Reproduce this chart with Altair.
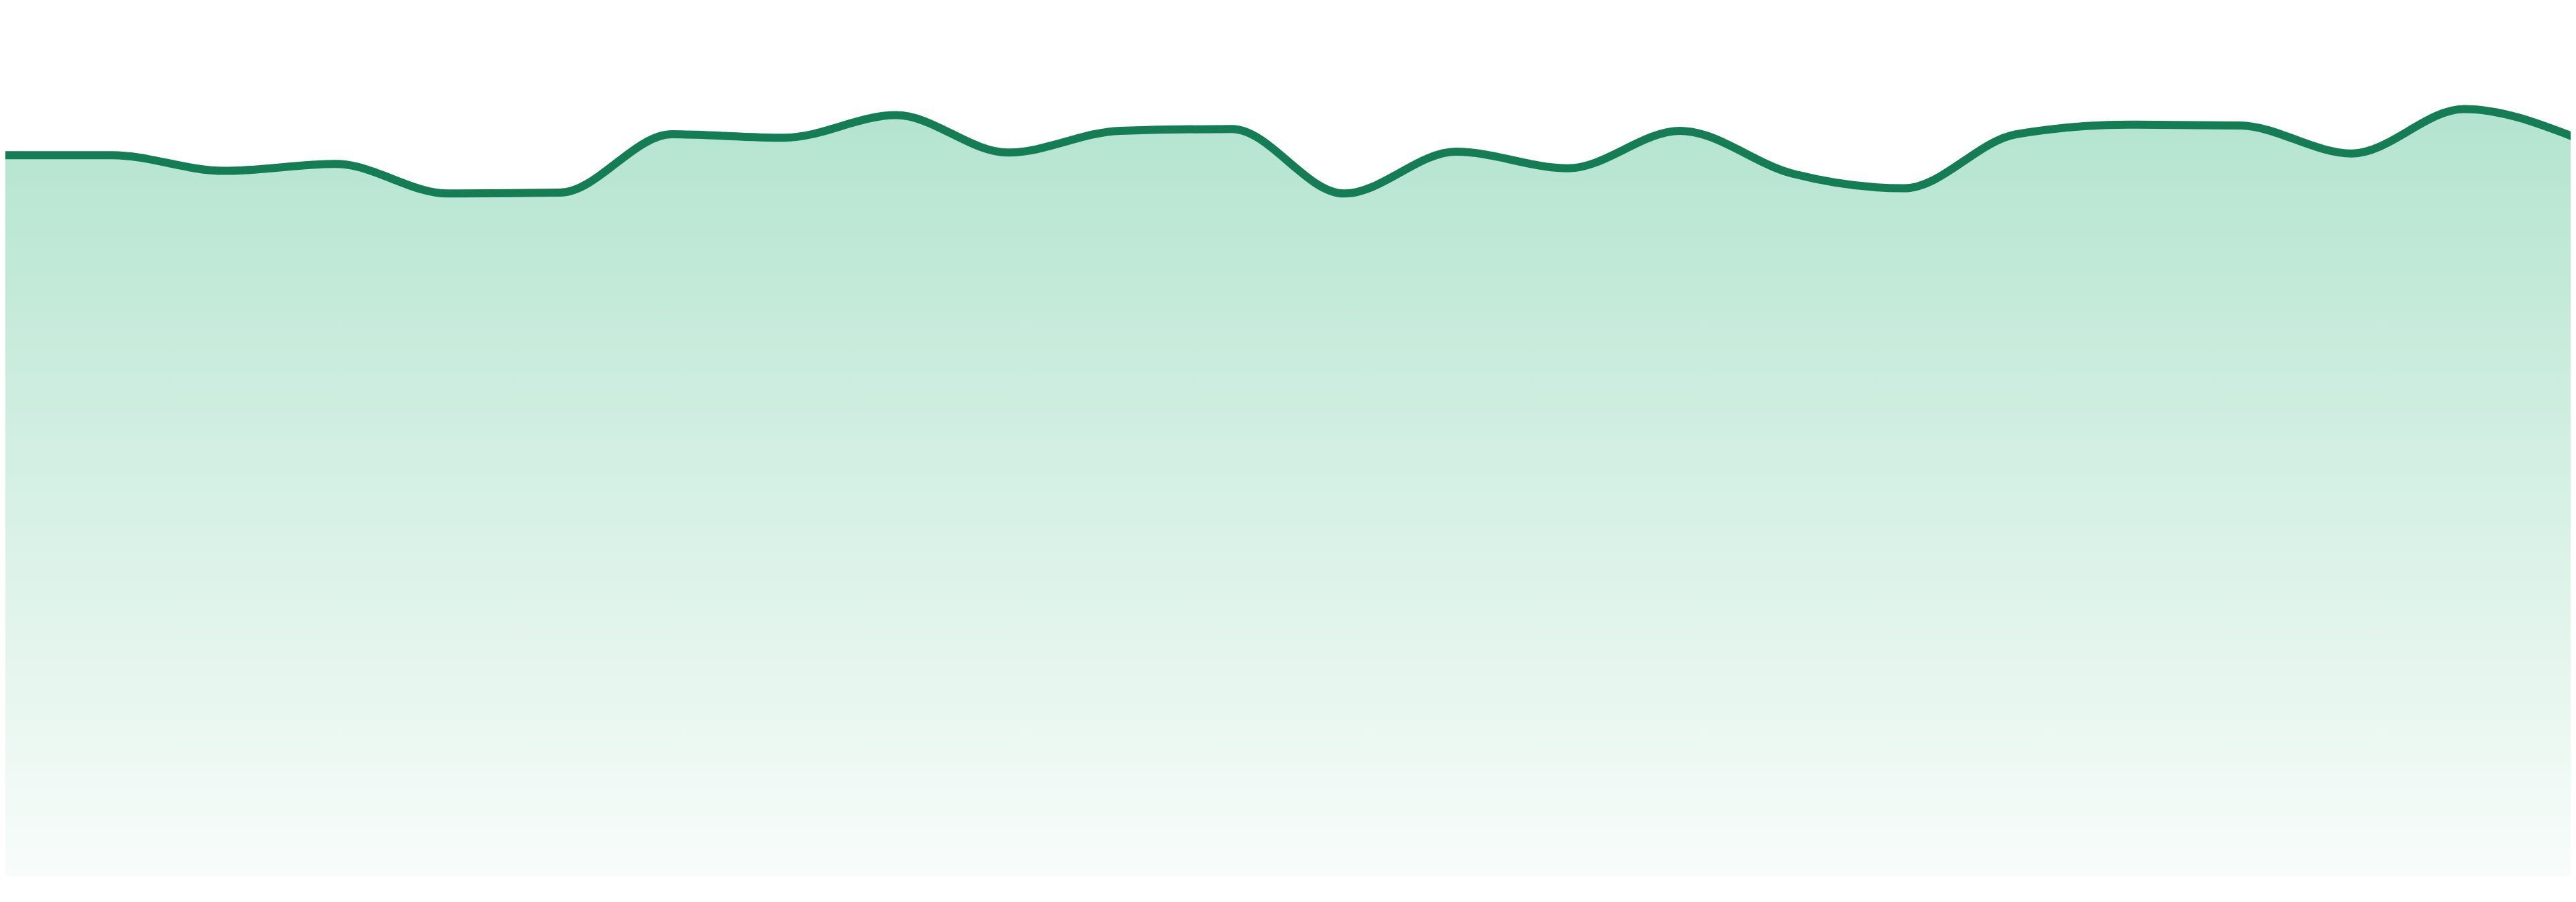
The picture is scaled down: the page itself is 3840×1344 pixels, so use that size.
import altair as alt
import pandas as pd

# Data (index positions and values on a 0-100 scale)
points = list(range(24))
values = [82.8, 82.8, 81.0, 81.8, 78.4, 78.5, 85.2, 84.8, 87.4, 83.1,
          85.6, 85.8, 78.4, 83.2, 81.3, 85.6, 80.7, 79.0, 85.2, 86.3,
          86.2, 83.0, 88.1, 84.8]

df = pd.DataFrame({"idx": points, "value": values})

LINE = "#147d54"
TOP = "#b3e4cf"
BOTTOM = "#f8fcfa"

x_enc = alt.X("idx:Q", axis=None,
              scale=alt.Scale(domain=[0.048, 22.952], nice=False, zero=False))
y_enc = alt.Y("value:Q", axis=None,
              scale=alt.Scale(domain=[0, 100], nice=False))

area = alt.Chart(df).mark_area(
    interpolate="monotone",
    clip=True,
    color=alt.Gradient(
        gradient="linear",
        stops=[alt.GradientStop(color=TOP, offset=0),
               alt.GradientStop(color=BOTTOM, offset=1)],
        x1=0, x2=0, y1=0, y2=1,
    ),
).encode(x=x_enc, y=y_enc)

line = alt.Chart(df).mark_line(
    interpolate="monotone",
    clip=True,
    color=LINE,
    strokeWidth=12,
).encode(x=x_enc, y=y_enc)

chart = alt.layer(area, line).properties(
    width=3824,
    height=1298,
    padding=0,
    background="white",
).configure_view(stroke=None)

chart.save("out.html", embed_options={"renderer": "svg", "actions": False})
